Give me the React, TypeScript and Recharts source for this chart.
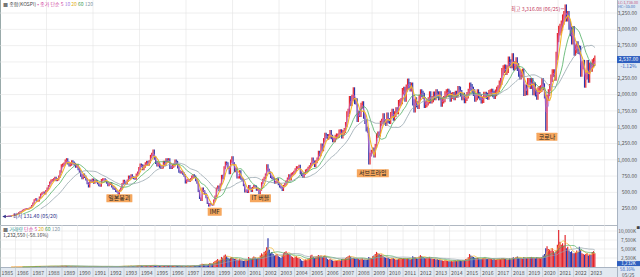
import React from "react"
import {
  ComposedChart, Bar, Line, XAxis, YAxis, CartesianGrid, Cell, ReferenceDot,
} from "recharts"

// KOSPI monthly closes, May 1985 .. May 2023
const firstYear = 1985
const firstMonth = 5

const closes: number[] = [
  // 1985 (May-Dec)
  131, 136, 139, 140, 143, 150, 156, 163,
  // 1986
  160, 172, 192, 205, 215, 228, 238, 248, 252, 245, 258, 272,
  // 1987
  300, 335, 385, 400, 365, 370, 425, 470, 490, 500, 480, 525,
  // 1988
  560, 600, 650, 680, 690, 700, 720, 690, 700, 740, 820, 907,
  // 1989
  920, 935, 980, 1000, 950, 920, 930, 970, 950, 930, 900, 909,
  // 1990
  860, 820, 760, 720, 770, 740, 700, 640, 590, 680, 660, 696,
  // 1991
  650, 680, 670, 640, 610, 600, 690, 700, 700, 680, 650, 610,
  // 1992
  630, 640, 590, 560, 550, 520, 510, 470, 530, 560, 630, 678,
  // 1993
  650, 640, 680, 740, 720, 760, 730, 720, 710, 770, 800, 866,
  // 1994
  920, 910, 860, 900, 940, 960, 930, 970, 1050, 1080, 1130, 1027,
  // 1995
  960, 920, 940, 900, 880, 890, 960, 930, 1000, 980, 1000, 882,
  // 1996
  880, 900, 920, 980, 960, 890, 820, 810, 810, 790, 760, 651,
  // 1997
  680, 690, 680, 700, 740, 760, 740, 690, 650, 520, 410, 376,
  // 1998
  560, 520, 480, 420, 330, 290, 330, 310, 305, 380, 440, 562,
  // 1999
  590, 530, 620, 750, 720, 880, 950, 940, 880, 800, 980, 1028,
  // 2000
  940, 830, 860, 730, 730, 820, 710, 690, 610, 510, 530, 504,
  // 2001
  600, 560, 520, 570, 600, 590, 540, 550, 480, 540, 640, 693,
  // 2002
  720, 770, 910, 840, 800, 740, 720, 710, 650, 660, 700, 627,
  // 2003
  590, 575, 535, 600, 630, 670, 710, 760, 700, 780, 790, 810,
  // 2004
  850, 880, 880, 900, 800, 770, 740, 790, 830, 840, 870, 895,
  // 2005
  930, 1010, 965, 910, 970, 1010, 1110, 1080, 1220, 1160, 1300, 1379,
  // 2006
  1360, 1340, 1360, 1420, 1350, 1300, 1300, 1350, 1370, 1370, 1430, 1434,
  // 2007
  1360, 1420, 1450, 1540, 1700, 1740, 1930, 1870, 1950, 2060, 1900, 1897,
  // 2008
  1620, 1710, 1700, 1830, 1850, 1670, 1590, 1470, 1450, 950, 1080, 1124,
  // 2009
  1160, 1060, 1210, 1370, 1400, 1390, 1560, 1590, 1670, 1580, 1560, 1682,
  // 2010
  1600, 1590, 1690, 1740, 1640, 1700, 1760, 1740, 1870, 1880, 1900, 2051,
  // 2011
  2070, 1940, 2100, 2190, 2140, 2100, 2130, 1880, 1770, 1910, 1850, 1826,
  // 2012
  1950, 2030, 2010, 1980, 1840, 1850, 1880, 1910, 2000, 1910, 1930, 1997,
  // 2013
  1960, 2030, 2000, 1960, 2000, 1860, 1910, 1930, 2000, 2030, 2040, 2011,
  // 2014
  1940, 1980, 1990, 1960, 2010, 2000, 2080, 2070, 2020, 1960, 1980, 1916,
  // 2015
  1950, 1990, 2040, 2130, 2110, 2070, 2030, 1940, 1960, 2030, 1990, 1961,
  // 2016
  1910, 1920, 1995, 1995, 1980, 1970, 2020, 2030, 2040, 2010, 1980, 2026,
  // 2017
  2070, 2090, 2160, 2200, 2350, 2390, 2400, 2360, 2390, 2520, 2480, 2467,
  // 2018
  2570, 2430, 2450, 2510, 2420, 2330, 2290, 2320, 2340, 2030, 2100, 2041,
  // 2019
  2200, 2200, 2140, 2200, 2040, 2130, 2020, 1970, 2060, 2080, 2090, 2198,
  // 2020
  2120, 1990, 1480, 1950, 2030, 2110, 2250, 2330, 2330, 2270, 2590, 2873,
  // 2021
  2980, 3010, 3060, 3150, 3200, 3300, 3200, 3200, 3070, 2970, 2840, 2977,
  // 2022
  2660, 2700, 2750, 2690, 2680, 2330, 2450, 2470, 2160, 2290, 2470, 2236,
  // 2023
  2430, 2410, 2480, 2500, 2537,
]

// volume, thousands
const volumes: number[] = [
  20, 25, 22, 30, 28, 35, 40, 45,
  50, 60, 80, 90, 85, 90, 100, 95, 90, 85, 95, 110,
  130, 150, 200, 220, 180, 170, 200, 240, 220, 200, 180, 210,
  230, 250, 280, 260, 240, 230, 250, 220, 230, 260, 300, 350,
  340, 300, 320, 330, 250, 220, 230, 240, 210, 200, 190, 200,
  180, 160, 170, 150, 200, 170, 150, 140, 130, 180, 160, 170,
  160, 170, 150, 140, 130, 140, 180, 170, 160, 150, 140, 150,
  160, 170, 150, 140, 130, 120, 130, 140, 200, 220, 260, 280,
  250, 230, 260, 300, 280, 320, 290, 280, 260, 320, 380, 420,
  450, 400, 350, 380, 400, 420, 380, 400, 450, 500, 550, 450,
  380, 330, 350, 320, 300, 320, 380, 350, 400, 380, 360, 320,
  300, 320, 330, 380, 360, 300, 280, 270, 260, 250, 240, 260,
  300, 320, 310, 330, 380, 420, 400, 380, 420, 520, 600, 700,
  900, 800, 750, 700, 650, 800, 1100, 1000, 950, 1400, 1700, 1900,
  2200, 1800, 2000, 2800, 2600, 3200, 3500, 3000, 2600, 2200, 2600, 2800,
  2400, 2200, 2300, 2000, 1900, 2300, 1900, 1800, 1700, 1800, 2000, 1900,
  2800, 2400, 2200, 2600, 2900, 2700, 2300, 2400, 2600, 3200, 3800, 3500,
  4200, 4500, 5500, 8000, 4800, 3800, 4200, 3600, 3200, 3400, 3600, 3000,
  2800, 2500, 3200, 3800, 4200, 4400, 3900, 3600, 3300, 3000, 2800, 2500,
  2800, 3000, 2600, 2400, 2200, 1800, 1700, 1900, 2100, 2000, 2200, 2400,
  3200, 3400, 2800, 2600, 2700, 3000, 3300, 3100, 3200, 2800, 3000, 3200,
  2800, 2200, 2000, 2200, 2000, 1800, 1700, 1800, 1800, 1900, 2000, 1800,
  2200, 2300, 2200, 2500, 2800, 3000, 3200, 2900, 2400, 2600, 2400, 2200,
  2400, 2200, 2100, 2300, 2400, 2000, 2100, 2000, 2100, 2800, 2600, 2500,
  3000, 3200, 3600, 4200, 3800, 3600, 3400, 3500, 3000, 2800, 2600, 2500,
  2600, 2300, 2200, 2400, 2500, 2200, 2000, 2100, 2300, 2400, 2500, 2300,
  2400, 2200, 2300, 2400, 2300, 2100, 2200, 3000, 2800, 2700, 2400, 2200,
  2900, 3300, 3000, 2800, 2500, 2400, 2500, 2600, 2800, 2400, 2300, 2200,
  2200, 2100, 2200, 2000, 2100, 1900, 1800, 1700, 1900, 1800, 1700, 1600,
  1600, 1700, 1600, 1700, 1800, 1700, 1800, 1900, 1800, 1700, 1800, 1900,
  2200, 2300, 2700, 3600, 3200, 3000, 2800, 2600, 2400, 2500, 2400, 2300,
  2200, 2400, 2500, 2600, 2300, 2200, 2400, 2300, 2200, 2100, 2200, 2000,
  2100, 2200, 2300, 2200, 2400, 2500, 2300, 2200, 2000, 2100, 2400, 2200,
  2600, 2700, 2500, 2800, 2900, 2600, 2500, 2400, 2300, 2800, 2600, 2500,
  2600, 2500, 2700, 2800, 2600, 2500, 2400, 2800, 2600, 2500, 2400, 2700,
  3200, 3600, 5200, 5800, 5000, 4800, 4500, 5200, 4400, 3800, 4600, 6200,
  10300, 7000, 6200, 6600, 6000, 8900, 5200, 5600, 4600, 4200, 4400, 3800,
  3800, 4000, 4600, 4200, 5600, 4800, 3800, 3600, 3400, 3600, 3800, 3200,
  3500, 3400, 4200, 4400, 3800,
]

const yearLabels = [
  1985, 1986, 1987, 1988, 1989, 1990, 1991, 1992, 1993, 1994,
  1995, 1996, 1997, 1998, 1999, 2000, 2001, 2002, 2003, 2004,
  2005, 2006, 2007, 2008, 2009, 2010, 2011, 2012, 2013, 2014,
  2015, 2016, 2017, 2018, 2019, 2020, 2021, 2022, 2023,
]
const gridYears = [...yearLabels, 2024]
const priceTicks = [250, 500, 750, 1000, 1250, 1500, 1750, 2000, 2250, 2500, 2750, 3000, 3250]
const volumeTicks = [2500, 5000, 7500, 10000]

const events = [
  { label: "일본붕괴", x: 1992.7, y: 410, w: 26 },
  { label: "IMF", x: 1998.85, y: 204, w: 14 },
  { label: "IT 버블", x: 2001.8, y: 410, w: 21 },
  { label: "서브프라임", x: 2009.05, y: 793, w: 32 },
  { label: "코로나", x: 2020.28, y: 1352, w: 21 },
]

const X_DOMAIN: [number, number] = [1985, 2024.8]
const FONT = "'Noto Sans CJK KR', 'Noto Sans', sans-serif"

const RED = "#e3242b"
const BLUE = "#2b35a8"

function sma(arr: number[], n: number): (number | null)[] {
  return arr.map((_, i) => {
    if (i < n - 1) return null
    let s = 0
    for (let k = i - n + 1; k <= i; k++) s += arr[k]
    return s / n
  })
}

const ma2 = sma(closes, 2)
const ma3 = sma(closes, 3)
const ma5 = sma(closes, 5)
const ma14 = sma(closes, 14)
const ma28 = sma(closes, 28)
const vma5 = sma(volumes, 5)
const vma14 = sma(volumes, 14)
const vma28 = sma(volumes, 28)

const rows = closes.map((c, i) => {
  const m = firstMonth - 1 + i
  const prev = i === 0 ? c : closes[i - 1]
  return {
    x: firstYear + Math.floor(m / 12) + ((m % 12) + 0.5) / 12,
    close: c,
    body: [Math.min(prev, c) * 0.975, Math.max(prev, c) * 1.025],
    up: c >= prev,
    ma2: ma2[i], ma3: ma3[i], ma5: ma5[i], ma14: ma14[i], ma28: ma28[i],
    vol: volumes[i],
    vma5: vma5[i], vma14: vma14[i], vma28: vma28[i],
  }
})

const last = rows[rows.length - 1]
const peakIdx = closes.indexOf(Math.max(...closes))

const fmt2 = (v: number) => v.toLocaleString("en-US", { minimumFractionDigits: 2, maximumFractionDigits: 2 })

function PriceTick(props: any) {
  const v = props.payload.value
  // the current-price box sits on top of this label
  if (v === 2500) return null
  return (
    <text x={637} y={props.y + 1.8} textAnchor="end" fontSize={5} fill="#555" fontFamily={FONT}>
      {fmt2(v)}
    </text>
  )
}

function VolTick(props: any) {
  return (
    <text x={636} y={props.y + 1.5} textAnchor="end" fontSize={4.8} fill="#555" fontFamily={FONT}>
      {props.payload.value.toLocaleString("en-US")}K
    </text>
  )
}

function YearTick(props: any) {
  const { x, payload } = props
  return (
    <g>
      <line x1={x} x2={x} y1={42} y2={52} stroke="#b4c0cc" strokeWidth={0.6} />
      <text x={x + 1.5} y={49.5} fontSize={5.2} fill="#555" fontFamily={FONT}>{payload.value}</text>
    </g>
  )
}

function EventTag({ cx, cy, label, w }: any) {
  return (
    <g>
      <rect x={cx - w / 2} y={cy - 4} width={w} height={8} fill="#f6a75e" rx={0.5} />
      <text x={cx} y={cy + 2.2} textAnchor="middle" fontSize={6} fill="#222" fontFamily={FONT}>{label}</text>
    </g>
  )
}

const legendStyle: React.CSSProperties = {
  position: "absolute", left: 3, fontSize: 5, lineHeight: "6px",
  fontFamily: FONT, whiteSpace: "nowrap", color: "#444",
}

export default function App() {
  return (
    <div style={{ position: "absolute", top: 0, left: 0, width: 640, height: 277, overflow: "hidden", background: "#fff", fontFamily: FONT }}>
      {/* right axis panel and time strip */}
      <div style={{ position: "absolute", left: 617, top: 0, width: 23, height: 277, background: "#dfe7f2", borderLeft: "1px solid #a9b4c2", boxSizing: "border-box" }} />
      <div style={{ position: "absolute", left: 0, top: 267, width: 617, height: 10, background: "#e2e9f1", borderTop: "1px solid #a9b4c2", boxSizing: "border-box" }} />
      <div style={{ position: "absolute", left: 0, top: 0, width: 1, height: 277, background: "#9aa" }} />

      <div style={{ position: "absolute", left: 0, top: 0 }}>
        <ComposedChart width={640} height={225} data={rows} margin={{ top: 0, right: 0, left: 0, bottom: 0 }}>
          <CartesianGrid stroke="#e4e4e4" strokeWidth={0.6} verticalValues={gridYears} horizontalValues={priceTicks} />
          <XAxis dataKey="x" type="number" domain={X_DOMAIN} ticks={gridYears} hide allowDataOverflow />
          <YAxis orientation="right" width={23} domain={[0, 3450]} ticks={priceTicks} axisLine={false} tickLine={false} tick={<PriceTick />} interval={0} />
          <Line dataKey="ma2" type="linear" stroke="#e05cbc" strokeWidth={0.6} dot={false} activeDot={false} isAnimationActive={false} />
          <Line dataKey="ma3" type="linear" stroke="#a37be0" strokeWidth={0.6} dot={false} activeDot={false} isAnimationActive={false} />
          <Bar dataKey="body" barSize={2} isAnimationActive={false}>
            {rows.map((r, i) => <Cell key={i} fill={r.up ? RED : BLUE} />)}
          </Bar>
          <Line dataKey="ma5" type="linear" stroke="#f3b72c" strokeWidth={1.1} dot={false} activeDot={false} isAnimationActive={false} />
          <Line dataKey="ma14" type="linear" stroke="#4fae62" strokeWidth={0.8} dot={false} activeDot={false} isAnimationActive={false} />
          <Line dataKey="ma28" type="linear" stroke="#95a5ad" strokeWidth={0.8} dot={false} activeDot={false} isAnimationActive={false} />
          {events.map((e) => (
            <ReferenceDot key={e.label} x={e.x} y={e.y} r={0} ifOverflow="visible"
              shape={(p: any) => <EventTag cx={p.cx} cy={p.cy} label={e.label} w={e.w} />} />
          ))}
          <ReferenceDot x={rows[peakIdx].x} y={3316} r={0} ifOverflow="visible"
            shape={(p: any) => (
              <g>
                <text x={p.cx - 5} y={p.cy + 1.8} textAnchor="end" fontSize={5.2} fill="#c23a5e" fontFamily={FONT}>최고 3,316.08 (06/25)</text>
                <line x1={p.cx - 4.5} x2={p.cx - 1} y1={p.cy} y2={p.cy} stroke="#c23a5e" strokeWidth={0.6} />
              </g>
            )} />
          <ReferenceDot x={rows[0].x} y={131.4} r={0} ifOverflow="visible"
            shape={(p: any) => (
              <g>
                <polygon points={`${p.cx - 3.5},${p.cy} ${p.cx},${p.cy - 1.8} ${p.cx},${p.cy + 1.8}`} fill="#2d2f8a" />
                <line x1={p.cx} x2={p.cx + 6} y1={p.cy} y2={p.cy} stroke="#2d2f8a" strokeWidth={0.6} />
                <text x={p.cx + 7} y={p.cy + 1.8} fontSize={5.2} fill="#2d2f8a" fontFamily={FONT}>최저 131.40 (05/20)</text>
              </g>
            )} />
          <ReferenceDot x={X_DOMAIN[1]} y={last.close} r={0} ifOverflow="visible"
            shape={(p: any) => (
              <g>
                <rect x={p.cx} y={p.cy - 3.5} width={23} height={7} fill="#2f5fbf" />
                <text x={p.cx + 11.5} y={p.cy + 1.8} textAnchor="middle" fontSize={5} fill="#fff" fontFamily={FONT}>{fmt2(last.close)}</text>
                <text x={p.cx + 11.5} y={p.cy + 8.5} textAnchor="middle" fontSize={5} fill="#2f5fbf" fontFamily={FONT}>-1.12%</text>
              </g>
            )} />
        </ComposedChart>
      </div>

      <div style={{ position: "absolute", left: 0, top: 225, borderTop: "1px solid #b0b8c2", width: 617 }} />
      <div style={{ position: "absolute", left: 0, top: 225 }}>
        <ComposedChart width={640} height={52} data={rows} margin={{ top: 0, right: 0, left: 0, bottom: 0 }}>
          <CartesianGrid stroke="#e4e4e4" strokeWidth={0.6} verticalValues={gridYears} horizontalValues={volumeTicks} />
          <XAxis dataKey="x" type="number" domain={X_DOMAIN} ticks={yearLabels} height={10} interval={0}
            axisLine={false} tickLine={false} tick={<YearTick />} allowDataOverflow />
          <YAxis orientation="right" width={23} domain={[0, 11670]} ticks={volumeTicks} axisLine={false} tickLine={false} tick={<VolTick />} interval={0} />
          <Bar dataKey="vol" barSize={1.4} isAnimationActive={false}>
            {rows.map((r, i) => <Cell key={i} fill={r.up ? RED : BLUE} />)}
          </Bar>
          <Line dataKey="vma5" type="linear" stroke="#f3b72c" strokeWidth={0.7} dot={false} activeDot={false} isAnimationActive={false} />
          <Line dataKey="vma14" type="linear" stroke="#4fae62" strokeWidth={0.7} dot={false} activeDot={false} isAnimationActive={false} />
          <Line dataKey="vma28" type="linear" stroke="#95a5ad" strokeWidth={0.7} dot={false} activeDot={false} isAnimationActive={false} />
          <ReferenceDot x={X_DOMAIN[1]} y={1232} r={0} ifOverflow="visible"
            shape={(p: any) => (
              <g>
                <rect x={p.cx} y={p.cy - 1.5} width={23} height={5} fill="#2f5fbf" />
                <text x={p.cx + 11.5} y={p.cy + 2.5} textAnchor="middle" fontSize={4.6} fill="#fff" fontFamily={FONT}>1,232K</text>
              </g>
            )} />
        </ComposedChart>
      </div>

      {/* legends and side texts */}
      <div style={{ ...legendStyle, top: 1 }}>
        <span style={{ color: "#777" }}>■ </span>종합(KOSPI) <span style={{ color: "#d0409e" }}>• 종가 단순 5</span>{" "}
        <span style={{ color: "#a37be0" }}>10</span> <span style={{ color: "#e0b020" }}>20</span>{" "}
        <span style={{ color: "#3e9e55" }}>60</span> <span style={{ color: "#8898a6" }}>120</span>
      </div>
      <div style={{ ...legendStyle, top: 226 }}>
        <span style={{ color: "#777" }}>■ </span><span style={{ color: "#3a9d9a" }}>거래량</span>{" "}
        <span style={{ color: "#d0409e" }}>단순 5</span> <span style={{ color: "#e0b020" }}>20</span>{" "}
        <span style={{ color: "#3e9e55" }}>60</span> <span style={{ color: "#8898a6" }}>120</span>
      </div>
      <div style={{ ...legendStyle, top: 232 }}>1,232,550 (-58.16%)</div>
      <div style={{ position: "absolute", left: 618, top: 1, fontSize: 3.8, lineHeight: "4px", color: "#c0587e", whiteSpace: "nowrap" }}>LC:1,736.00</div>
      <div style={{ position: "absolute", left: 618, top: 5, fontSize: 3.8, lineHeight: "4px", color: "#3a6ab8", whiteSpace: "nowrap" }}>HC:-35.00</div>
      <div style={{ position: "absolute", left: 620, top: 267, fontSize: 4.3, lineHeight: "5px", color: "#2f5fbf", whiteSpace: "nowrap" }}>58.16%</div>
      <div style={{ position: "absolute", left: 622, top: 272, fontSize: 4.8, lineHeight: "5px", color: "#555", whiteSpace: "nowrap" }}>05/25</div>
      <div style={{ position: "absolute", left: 636.5, top: 225.5, fontSize: 3.5, lineHeight: "4px", color: "#444" }}>■</div>
    </div>
  )
}
